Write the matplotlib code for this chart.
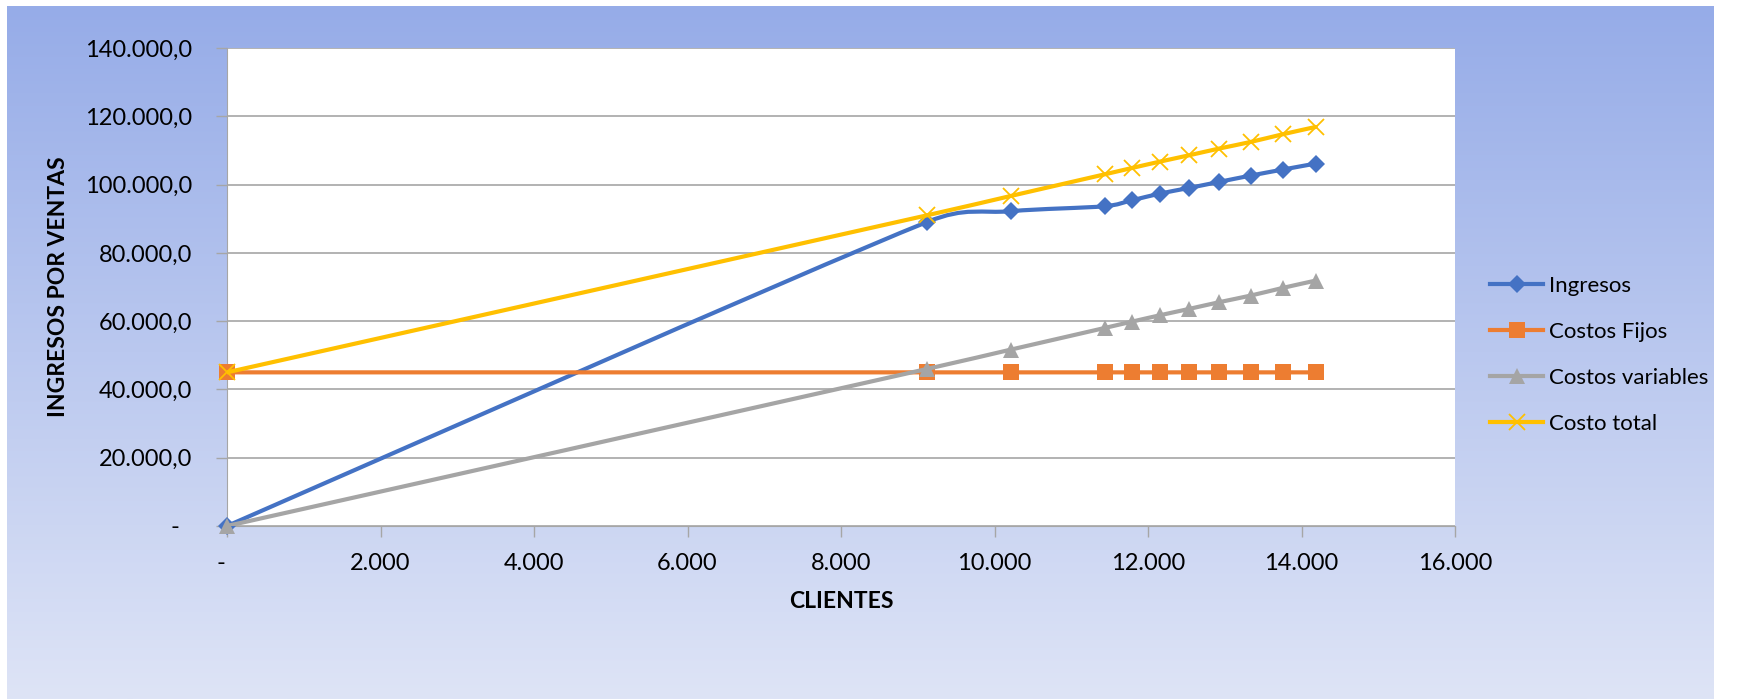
import matplotlib.pyplot as plt
import numpy as np
from matplotlib.path import Path
from matplotlib.patches import PathPatch
from matplotlib.lines import Line2D


clientes = [0, 9125, 10215, 11440, 11796, 12157, 12538, 12925, 13338, 13755, 14185]
ingresos = [0, 89070, 92200, 93660, 95420, 97370, 99020, 100780, 102630, 104390, 106150]
costos_fijos = [45000] * 11
costos_variables = [0, 46020, 51680, 58020, 59880, 61730, 63590, 65540, 67490, 69730, 71880]
costo_total = [45000, 91020, 96680, 103020, 104880, 106730, 108590, 110540, 112490, 114730, 116880]

x_ticks = [0, 2000, 4000, 6000, 8000, 10000, 12000, 14000, 16000]
x_tick_labels = ["-  ", "2.000", "4.000", "6.000", "8.000", "10.000", "12.000", "14.000", "16.000"]
y_ticks = [0, 20000, 40000, 60000, 80000, 100000, 120000, 140000]
y_tick_labels = ["-  ", "20.000,0", "40.000,0", "60.000,0", "80.000,0",
                 "100.000,0", "120.000,0", "140.000,0"]

plt.rcParams["font.family"] = ["Lato", "DejaVu Sans"]

W, H = 1746, 699
fig = plt.figure(figsize=(W / 100, H / 100), dpi=100)

# gradient background
bg = fig.add_axes([7 / W, 0, (1714 - 7) / W, 1 - 6 / H], zorder=-10)
top = np.array([150, 172, 232]) / 255
bot = np.array([222, 228, 246]) / 255
t = np.linspace(0, 1, 256)[:, None]
grad = top * (1 - t) + bot * t
bg.imshow(grad[:, None, :], aspect="auto", extent=[0, 1, 0, 1])
bg.set_axis_off()

ax = fig.add_axes([227 / W, 1 - 526 / H, (1455 - 227) / W, (526 - 48) / H])
ax.set_facecolor("white")
ax.set_xlim(0, 16000)
ax.set_ylim(0, 140000)


def smooth_line(ax, xs, ys, color, lw, z):
    # excel style smoothed line (bezier), computed in pixel space
    pts = ax.transData.transform(np.column_stack([xs, ys]))
    n = len(pts)
    verts = [pts[0]]
    codes = [Path.MOVETO]
    for i in range(n - 1):
        p0 = pts[max(i - 1, 0)]
        p1 = pts[i]
        p2 = pts[i + 1]
        p3 = pts[min(i + 2, n - 1)]
        d12 = np.hypot(*(p2 - p1))
        d02 = np.hypot(*(p2 - p0))
        d13 = np.hypot(*(p3 - p1))
        f1 = 1 / 6 if d02 / 6 < d12 / 2 else d12 / (2 * d02)
        f2 = 1 / 6 if d13 / 6 < d12 / 2 else d12 / (2 * d13)
        verts += [p1 + f1 * (p2 - p0), p2 - f2 * (p3 - p1), p2]
        codes += [Path.CURVE4] * 3
    dv = ax.transData.inverted().transform(np.array(verts))
    ax.add_patch(PathPatch(Path(dv, codes), fill=False, edgecolor=color,
                           lw=lw, zorder=z, capstyle="round", joinstyle="round"))


series = [
    ("Ingresos", ingresos, "#4472C4", "D", 9, 0),
    ("Costos Fijos", costos_fijos, "#ED7D31", "s", 11.5, 0),
    ("Costos variables", costos_variables, "#A5A5A5", "^", 12, 0),
    ("Costo total", costo_total, "#FFC000", "x", 12, 1.3),
]

handles = []
for k, (name, vals, col, mk, ms, mew) in enumerate(series):
    z = 3 + k
    smooth_line(ax, clientes, vals, col, 3.0, z)
    ax.plot(clientes, vals, linestyle="none", marker=mk, markersize=ms,
            color=col, markeredgewidth=mew, zorder=z + 0.5, clip_on=False)
    handles.append(Line2D([], [], color=col, lw=3.0, marker=mk, markersize=ms,
                          markeredgewidth=mew, label=name))

ax.set_xticks(x_ticks)
ax.set_xticklabels(x_tick_labels)
ax.set_yticks(y_ticks)
ax.set_yticklabels(y_tick_labels)
ax.tick_params(axis="both", colors="#A6A6A6", labelcolor="black", labelsize=17,
               length=8, width=1)
ax.tick_params(axis="x", pad=11.5)
ax.tick_params(axis="y", pad=17)
ax.grid(axis="y", color="#A6A6A6", lw=1.2)
ax.set_axisbelow(True)
ax.spines["right"].set_visible(False)
ax.spines["top"].set_visible(False)
ax.spines["left"].set_color("#A6A6A6")
ax.spines["bottom"].set_color("#A6A6A6")

ax.set_xlabel("CLIENTES", fontsize=16.5, fontweight="bold")
ax.xaxis.set_label_coords(0.5, -0.135)
ax.set_ylabel("INGRESOS POR VENTAS", fontsize=16.5, fontweight="bold")
ax.yaxis.set_label_coords(-0.1287, 0.5)

fig.legend(handles=handles, loc="upper left", bbox_to_anchor=(1470 / W, 1 - 256 / H),
           frameon=False, fontsize=16, handlelength=2.4, handletextpad=0.25,
           labelspacing=1.17)

fig.savefig("out.png", dpi=100, facecolor="white")
